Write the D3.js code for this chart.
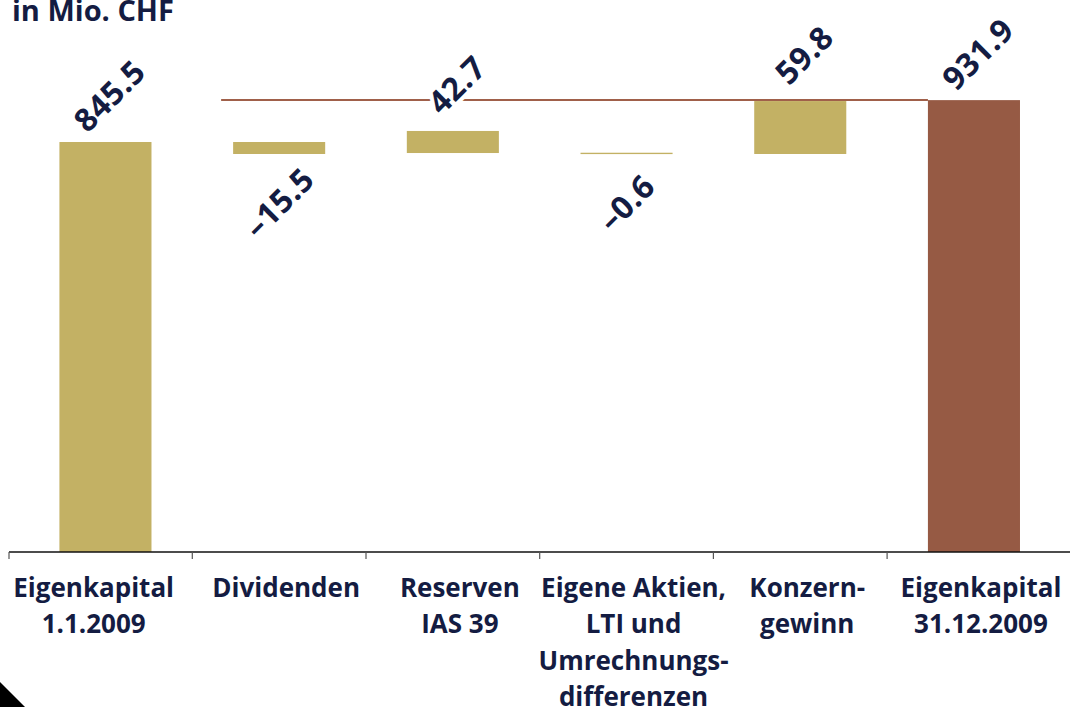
<!DOCTYPE html>
<html>
<head>
<meta charset="utf-8">
<script src="https://cdn.jsdelivr.net/npm/d3@7"></script>
<style>
  body { margin: 0; background: #fff; }
  svg { display: block; font-family: "Open Sans", Lato, sans-serif; }
</style>
</head>
<body>
<svg id="chart" width="1070" height="707"></svg>
<script>
// Eigenkapital-Entwicklung 2009, in Mio. CHF
var categories = ["ek0", "div", "res", "akt", "gew", "ek1"];
var catLabels = [
    ["Eigenkapital", "1.1.2009"],
    ["Dividenden"],
    ["Reserven", "IAS 39"],
    ["Eigene Aktien,", "LTI und", "Umrechnungs-", "differenzen"],
    ["Konzern-", "gewinn"],
    ["Eigenkapital", "31.12.2009"]
];
var values = [845.5, -15.5, 42.7, -0.6, 59.8, 931.9];
var valueLabels = ["845.5", "\u201315.5", "42.7", "\u20130.6", "59.8", "931.9"];
// bar extents as drawn in the original
var barLow  = [0, 820.8, 822.8, 820.6, 820.8, 0];
var barHigh = [845.5, 845.5, 868.3, 823.4, 930.0, 931.9];
var barColor = ["#c3b164", "#c3b164", "#c3b164", "#c3b164", "#c3b164", "#965a44"];
var totalLine = 931.9;

var svg = d3.select("#chart");
var navy = "#141c42";

var x = d3.scaleBand()
    .domain(categories)
    .range([18.6, 1060.8])
    .paddingInner(0.47)
    .paddingOuter(0.235);

var y = d3.scaleLinear()
    .domain([0, 1000])
    .range([552, 67.1]);

// title
svg.append("text")
    .attr("x", 12)
    .attr("y", 21)
    .attr("fill", navy)
    .style("font-size", "29px")
    .style("font-weight", "bold")
    .text("in Mio. CHF");

// reference line at year-end level
svg.append("line")
    .attr("x1", x("div") - 12)
    .attr("x2", x("ek1"))
    .attr("y1", y(totalLine))
    .attr("y2", y(totalLine))
    .attr("stroke", "#a0604a")
    .attr("stroke-width", 2);

// bars
svg.selectAll(".bar")
    .data(categories)
    .enter().append("rect")
    .attr("class", "bar")
    .attr("x", (d) => x(d))
    .attr("width", x.bandwidth())
    .attr("y", (d, i) => y(barHigh[i]))
    .attr("height", (d, i) => y(barLow[i]) - y(barHigh[i]))
    .attr("fill", (d, i) => barColor[i]);

// value labels, rotated, centred above / below the bar
svg.selectAll(".val")
    .data(categories)
    .enter().append("text")
    .attr("class", "val")
    .attr("transform", function(d, i) {
        var cx = x(d) + x.bandwidth() / 2;
        if (values[i] < 0) return "translate(" + (cx + 8) + "," + (y(barLow[i]) + 57) + ") rotate(-45)";
        return "translate(" + (cx + 12) + "," + (y(barHigh[i]) - 38) + ") rotate(-45)";
    })
    .attr("text-anchor", "middle")
    .attr("fill", navy)
    .attr("stroke", "#fff")
    .attr("stroke-width", 8)
    .attr("paint-order", "stroke")
    .style("font-size", "32px")
    .style("font-weight", "bold")
    .style("letter-spacing", "0.5px")
    .text((d, i) => valueLabels[i]);

// x axis
var off = x.paddingInner() * x.step() / 2;
var bounds = categories.map((d, i) => i === 0 ? 9 : x(d) - off);
bounds.push(x(categories[5]) + x.bandwidth() + off);

svg.append("line")
    .attr("x1", 9).attr("x2", 1070)
    .attr("y1", y(0)).attr("y2", y(0))
    .attr("stroke", "#111")
    .attr("stroke-width", 1.5);

svg.selectAll(".tick")
    .data(bounds.slice(0, 6))
    .enter().append("line")
    .attr("class", "tick")
    .attr("x1", (d) => d)
    .attr("x2", (d) => d)
    .attr("y1", y(0))
    .attr("y2", y(0) + 7)
    .attr("stroke", "#555")
    .attr("stroke-width", 1.2);

var lab = svg.selectAll(".cat")
    .data(categories)
    .enter().append("text")
    .attr("class", "cat")
    .attr("text-anchor", "middle")
    .attr("fill", navy)
    .style("font-size", "26px")
    .style("font-weight", "bold");

lab.selectAll("tspan")
    .data((d, i) => catLabels[i].map((t) => ({ t: t, i: i })))
    .enter().append("tspan")
    .attr("x", (d) => (bounds[d.i] + bounds[d.i + 1]) / 2 + (d.i === 0 ? -7 : 7))
    .attr("y", (d, j) => 597 + j * 36.3)
    .text((d) => d.t);

// corner mark
svg.append("path")
    .attr("d", "M0,682 L25,707 L0,707 Z")
    .attr("fill", "#000");
</script>
</body>
</html>
